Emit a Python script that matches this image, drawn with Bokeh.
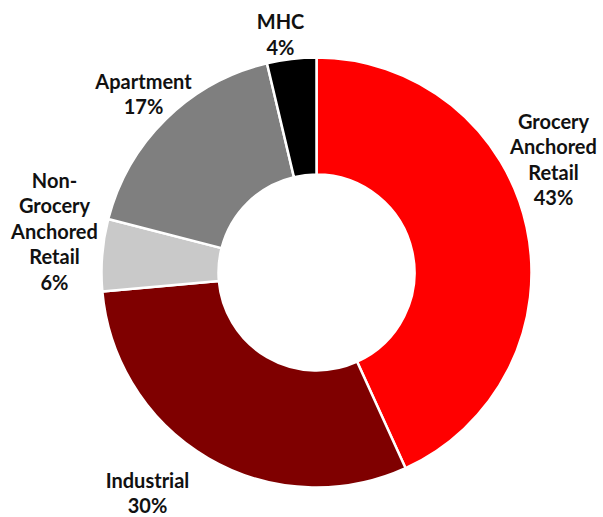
import math
from bokeh.plotting import figure
from bokeh.models import Range1d, ColumnDataSource
from bokeh.core.properties import value
from bokeh.embed import file_html
from bokeh.resources import INLINE

# ---- data ----
categories = ["Grocery Anchored Retail", "Industrial", "Non-Grocery Anchored Retail", "Apartment", "MHC"]
shares = [43.2, 30.4, 5.4, 17.3, 3.7]
pct_labels = ["43%", "30%", "6%", "17%", "4%"]
label_lines = [
    ["Grocery", "Anchored", "Retail"],
    ["Industrial"],
    ["Non-", "Grocery", "Anchored", "Retail"],
    ["Apartment"],
    ["MHC"],
]
colors = ["#FF0000", "#7F0000", "#C9C9C9", "#7F7F7F", "#000000"]

# ---- layout (picture pixel coordinates) ----
W, H = 603, 517
cx, cy_pic = 316, 272
r_outer, r_inner = 215, 98
label_pos = [(553, 158.5), (147, 492), (54, 230), (143, 93), (280, 33.5)]
line_h = 25.5

def py(y_pic):
    return H - y_pic

p = figure(width=W, height=H, output_backend="svg", toolbar_location=None,
           x_range=Range1d(0, W), y_range=Range1d(0, H),
           min_border=0)
p.axis.visible = False
p.grid.visible = False
p.outline_line_color = None
p.background_fill_color = "white"
p.border_fill_color = "white"

total = sum(shares)
starts, ends = [], []
cum = 0.0
for s in shares:
    a0 = math.pi / 2 - 2 * math.pi * cum / total
    cum += s
    a1 = math.pi / 2 - 2 * math.pi * cum / total
    starts.append(a1)
    ends.append(a0)

src = ColumnDataSource(dict(x=[cx] * len(shares), y=[py(cy_pic)] * len(shares),
                            start=starts, end=ends, color=colors, cat=categories))
p.annular_wedge(x="x", y="y", inner_radius=r_inner, outer_radius=r_outer,
                start_angle="start", end_angle="end", fill_color="color",
                line_color="white", line_width=2.5, source=src, direction="anticlock")

tx, ty, tt = [], [], []
for (lx, ly), lines, pct in zip(label_pos, label_lines, pct_labels):
    all_lines = lines + [pct]
    n = len(all_lines)
    for i, t in enumerate(all_lines):
        yp = ly + (i - (n - 1) / 2) * line_h
        tx.append(lx)
        ty.append(py(yp))
        tt.append(t)

p.text(x=tx, y=ty, text=tt, text_align="center", text_baseline="middle",
       text_font=value("Lato"), text_font_style="bold", text_font_size="20px",
       text_color="#111111")

open("out.html", "w").write(file_html(p, INLINE))
